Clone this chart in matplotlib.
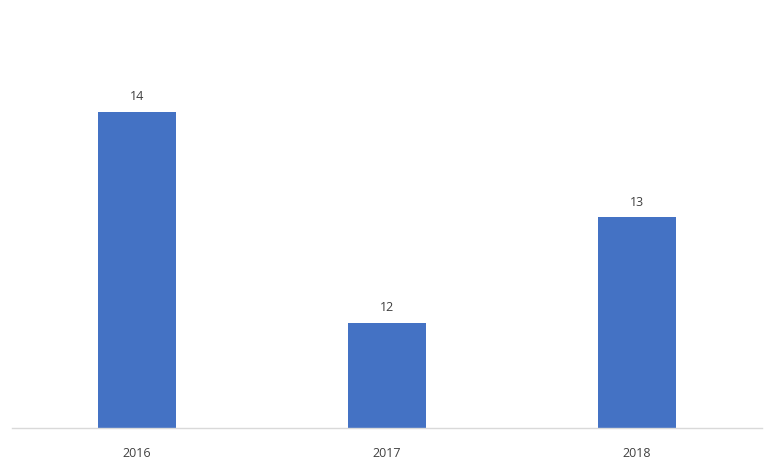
import matplotlib
matplotlib.use('Agg')
import matplotlib.pyplot as plt

# chart data
years = ['2016', '2017', '2018']
values = [14, 12, 13]

plt.rcParams['font.family'] = ['Open Sans', 'DejaVu Sans']

fig = plt.figure(figsize=(7.76, 4.73), dpi=100)
ax = fig.add_axes([12 / 776, 45 / 473, 750 / 776, 422 / 473])

x = range(len(years))
bars = ax.bar(x, values, width=0.31, color='#4472C4', zorder=2)

# value labels above bars
for xi, v in zip(x, values):
    ax.text(xi, v + 0.08, str(v), ha='center', va='bottom', fontsize=9, color='#404040')

ax.set_xlim(-0.5, 2.5)
ax.set_ylim(11, 15)
ax.set_xticks(list(x))
ax.set_xticklabels(years, fontsize=9, color='#404040')
ax.tick_params(axis='x', length=0, pad=13.5)
ax.set_yticks([])

for side in ['top', 'right', 'left']:
    ax.spines[side].set_visible(False)
ax.spines['bottom'].set_color('#D9D9D9')
ax.spines['bottom'].set_linewidth(1)

fig.savefig('out.png', dpi=100)
